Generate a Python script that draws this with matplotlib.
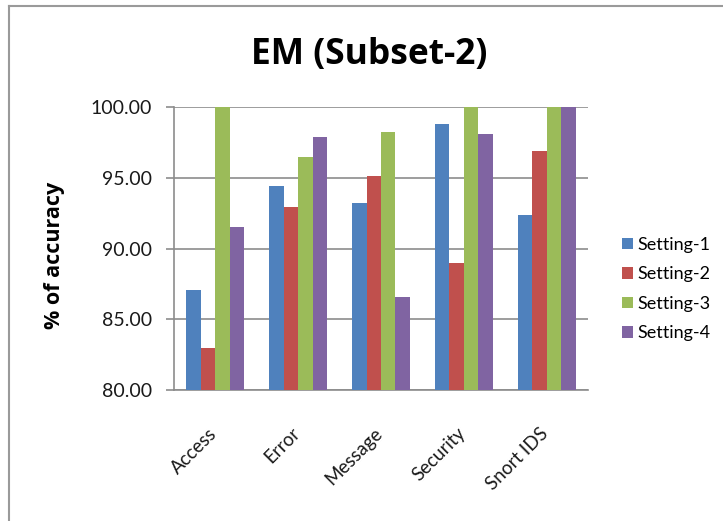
import matplotlib
matplotlib.use("Agg")
import matplotlib.pyplot as plt
import matplotlib.transforms as mtransforms
from matplotlib.lines import Line2D
import numpy as np

plt.rcParams['font.family'] = ['Lato', 'DejaVu Sans']

categories = ["Access", "Error", "Message", "Security", "Snort IDS"]
series_names = ["Setting-1", "Setting-2", "Setting-3", "Setting-4"]
setting_1 = [87.1, 94.4, 93.2, 98.8, 92.4]
setting_2 = [83.0, 92.9, 95.1, 89.0, 96.9]
setting_3 = [100.0, 96.5, 98.2, 100.0, 100.0]
setting_4 = [91.5, 97.9, 86.6, 98.1, 100.0]
y_ticks = [80, 85, 90, 95, 100]

colors = ["#4F81BD", "#C0504D", "#9BBB59", "#8064A2"]
grid_color = "#8C8C8C"

fig = plt.figure(figsize=(7.23, 5.21), dpi=100)
ax = fig.add_axes([174 / 723, 1 - 390 / 521, 414 / 723, 283 / 521])

x = np.arange(len(categories))
width = 0.175
for k, (vals, name, col) in enumerate(zip([setting_1, setting_2, setting_3, setting_4],
                                         series_names, colors)):
    ax.bar(x + (k - 1.5) * width, np.array(vals) - 80, width=width, bottom=80,
           color=col, label=name, zorder=3, linewidth=0)

ax.set_ylim(80, 100)
ax.set_xlim(-0.5, len(categories) - 0.5)
ax.set_yticks(y_ticks)
ax.set_yticklabels([f"{v:.2f}" for v in y_ticks], fontsize=14, color="#1A1A1A")
ax.yaxis.grid(True, color=grid_color, linewidth=1.2, zorder=0)
ax.tick_params(axis='y', length=6, width=1.2, color=grid_color, pad=10)

ax.set_xticks(x)
ax.set_xticklabels(categories, fontsize=13.5, rotation=45, ha='right', va='top',
                   color="#1A1A1A")
ax.tick_params(axis='x', length=0, pad=25)
offset = mtransforms.ScaledTranslation(5 / 100, 0, fig.dpi_scale_trans)
for lbl in ax.get_xticklabels():
    lbl.set_transform(lbl.get_transform() + offset)

for side in ['top', 'right']:
    ax.spines[side].set_visible(False)
for side in ['left', 'bottom']:
    ax.spines[side].set_color(grid_color)
    ax.spines[side].set_linewidth(1.2)

fig.text(369 / 723, 1 - 55 / 521, "EM (Subset-2)", fontsize=25.5, fontweight='bold',
         family=['Open Sans', 'DejaVu Sans'], ha='center', va='center', color="#000000")
fig.text(55 / 723, 1 - 255 / 521, "% of accuracy", fontsize=15.5, fontweight='bold',
         family=['Open Sans', 'DejaVu Sans'], rotation=90, ha='center', va='center',
         color="#000000")

leg = fig.legend(loc='center left', bbox_to_anchor=(606 / 723, 1 - 289 / 521),
                 frameon=False, fontsize=13, handlelength=0.6, handleheight=0.6,
                 handletextpad=0.25, labelspacing=0.75)

# chart-area border: top and left edges
fig.add_artist(Line2D([9 / 723, 1], [1 - 6 / 521, 1 - 6 / 521], color="#9A9A9A",
                      linewidth=1.5, transform=fig.transFigure))
fig.add_artist(Line2D([9 / 723, 9 / 723], [0, 1 - 6 / 521], color="#9A9A9A",
                      linewidth=1.5, transform=fig.transFigure))

fig.savefig("out.png", dpi=100)
